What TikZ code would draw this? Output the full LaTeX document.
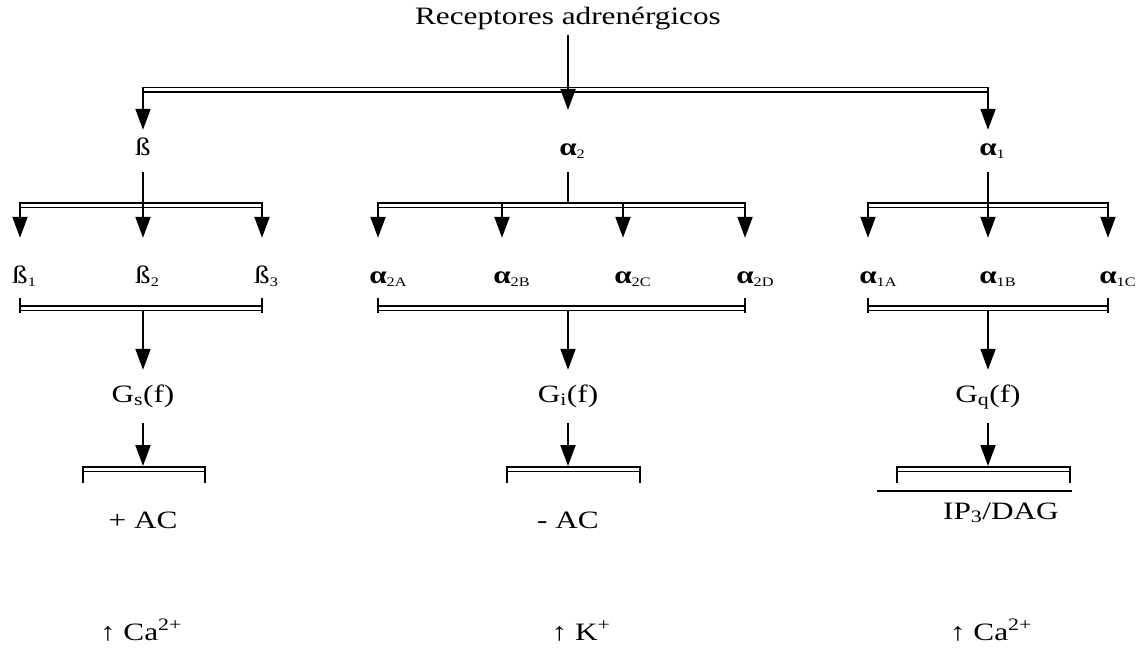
\documentclass[tikz,border=0pt]{standalone}
\usepackage{fontspec}
\setmainfont{Liberation Serif}[FakeStretch=1.25]
\usetikzlibrary{arrows.meta}
\tikzset{
  every picture/.style={line join=round, >={Triangle[length=21pt,width=15pt]}},
  lab/.style={anchor=base, inner sep=0pt, text height=17pt, text depth=5pt,
    font=\fontsize{25}{30}\selectfont},
  arr/.style={->, line width=2pt},
  bar/.style={double, line width=1.4pt, double distance=3pt},
  tick/.style={line width=2pt},
}
\newcommand{\rcp}[2]{#1\rlap{\raisebox{-3pt}{\fontsize{13}{13}\selectfont #2}}}

\begin{document}
\begin{tikzpicture}[x=1pt,y=-1pt]
\useasboundingbox (0,0) rectangle (1139,650);
% labels
\node[lab] (rec) at (568,25) {Receptores adrenérgicos};
\node[lab] (b) at (143,155) {ß};
\node[lab] (a2) at (568,155) {\rcp{\textbf{α}}{2}};
\node[lab] (a1) at (988,155) {\rcp{\textbf{α}}{1}};
\node[lab] (b1) at (20,283) {\rcp{ß}{1}};
\node[lab] (b2) at (143,283) {\rcp{ß}{2}};
\node[lab] (b3) at (262,283) {\rcp{ß}{3}};
\node[lab] (a2A) at (378,283) {\rcp{\textbf{α}}{2A}};
\node[lab] (a2B) at (502,283) {\rcp{\textbf{α}}{2B}};
\node[lab] (a2C) at (623,283) {\rcp{\textbf{α}}{2C}};
\node[lab] (a2D) at (745,283) {\rcp{\textbf{α}}{2D}};
\node[lab] (a1A) at (868,283) {\rcp{\textbf{α}}{1A}};
\node[lab] (a1B) at (988,283) {\rcp{\textbf{α}}{1B}};
\node[lab] (a1C) at (1108,283) {\rcp{\textbf{α}}{1C}};
\node[lab] (Gs) at (143,402) {G\textsubscript{s}(f)};
\node[lab] (Gi) at (568,402) {G\textsubscript{i}(f)};
\node[lab] (Gq) at (988,402) {G\textsubscript{q}(f)};
\node[lab] (acp) at (143,528) {+ AC};
\node[lab] (acm) at (568,528) {- AC};
\node[lab] (ip) at (1001,519) {IP\textsubscript{3}/DAG};
\node[lab] (ca1) at (141,640) {↑ Ca\textsuperscript{2+}};
\node[lab] (k) at (581,640) {↑ K\textsuperscript{+}};
\node[lab] (ca2) at (991,640) {↑ Ca\textsuperscript{2+}};

% brackets
\coordinate (t1) at (143,90); \coordinate (t2) at (988,90); \coordinate (tm) at (568,110);
\coordinate (bl) at (20,205); \coordinate (br) at (262,205);
\coordinate (al) at (378,205); \coordinate (am) at (568,205); \coordinate (ar) at (745,205);
\coordinate (cl) at (868,205); \coordinate (cr) at (1108,205);
\coordinate (l1) at (20,308); \coordinate (l2) at (262,308); \coordinate (lm1) at (143,308);
\coordinate (m1) at (378,308); \coordinate (m2) at (745,308); \coordinate (lm2) at (568,308);
\coordinate (r1) at (868,308); \coordinate (r2) at (1108,308); \coordinate (lm3) at (988,308);
\coordinate (s1) at (83,469); \coordinate (s2) at (205,469); \coordinate (sm1) at (143,469);
\coordinate (s3) at (507,469); \coordinate (s4) at (640,469); \coordinate (sm2) at (568,469);
\coordinate (s5) at (897,469); \coordinate (s6) at (1070,469); \coordinate (sm3) at (988,469);
\coordinate (u1) at (877,491); \coordinate (u2) at (1072,491);

\draw[bar] (t1) -- (t2);
\draw[bar] (bl) -- (br);
\draw[bar] (al) -- (ar);
\draw[bar] (cl) -- (cr);
\foreach \p/\q in {l1/l2, m1/m2, r1/r2}{
  \draw[bar] (\p) -- (\q);
  \draw[tick] ([yshift=10pt]\p) -- ([yshift=-5pt]\p);
  \draw[tick] ([yshift=10pt]\q) -- ([yshift=-5pt]\q);
}
\foreach \p/\q in {s1/s2, s3/s4, s5/s6}{
  \draw[bar] (\p) -- (\q);
  \draw[tick] ([yshift=3pt]\p) -- ([yshift=-14pt]\p);
  \draw[tick] ([yshift=3pt]\q) -- ([yshift=-14pt]\q);
}
\draw[tick] (u1) -- (u2);

% arrows
\draw[arr, shorten <=5pt] (rec) -- (tm);
\draw[arr, shorten >=8pt] ([yshift=3pt]t1) -- (b);
\draw[arr, shorten >=8pt] ([yshift=3pt]t2) -- (a1);
\draw[arr, shorten <=12pt, shorten >=28pt] (b) -- (b2);
\draw[arr, shorten <=12pt, shorten >=28pt] (a1) -- (a1B);
\draw[tick, shorten <=12pt] (a2) -- ([yshift=3pt]am);
\foreach \n in {b1, b3, a2A, a2B, a2C, a2D, a1A, a1C}
  \draw[arr, shorten >=28pt] ([yshift=3pt]\n |- am) -- (\n);
\draw[arr, shorten >=15pt] ([yshift=-3pt]lm1) -- (Gs);
\draw[arr, shorten >=15pt] ([yshift=-3pt]lm2) -- (Gi);
\draw[arr, shorten >=15pt] ([yshift=-3pt]lm3) -- (Gq);
\draw[arr, shorten <=16pt] (Gs) -- ([yshift=3pt]sm1);
\draw[arr, shorten <=16pt] (Gi) -- ([yshift=3pt]sm2);
\draw[arr, shorten <=16pt] (Gq) -- ([yshift=3pt]sm3);
\end{tikzpicture}
\end{document}
